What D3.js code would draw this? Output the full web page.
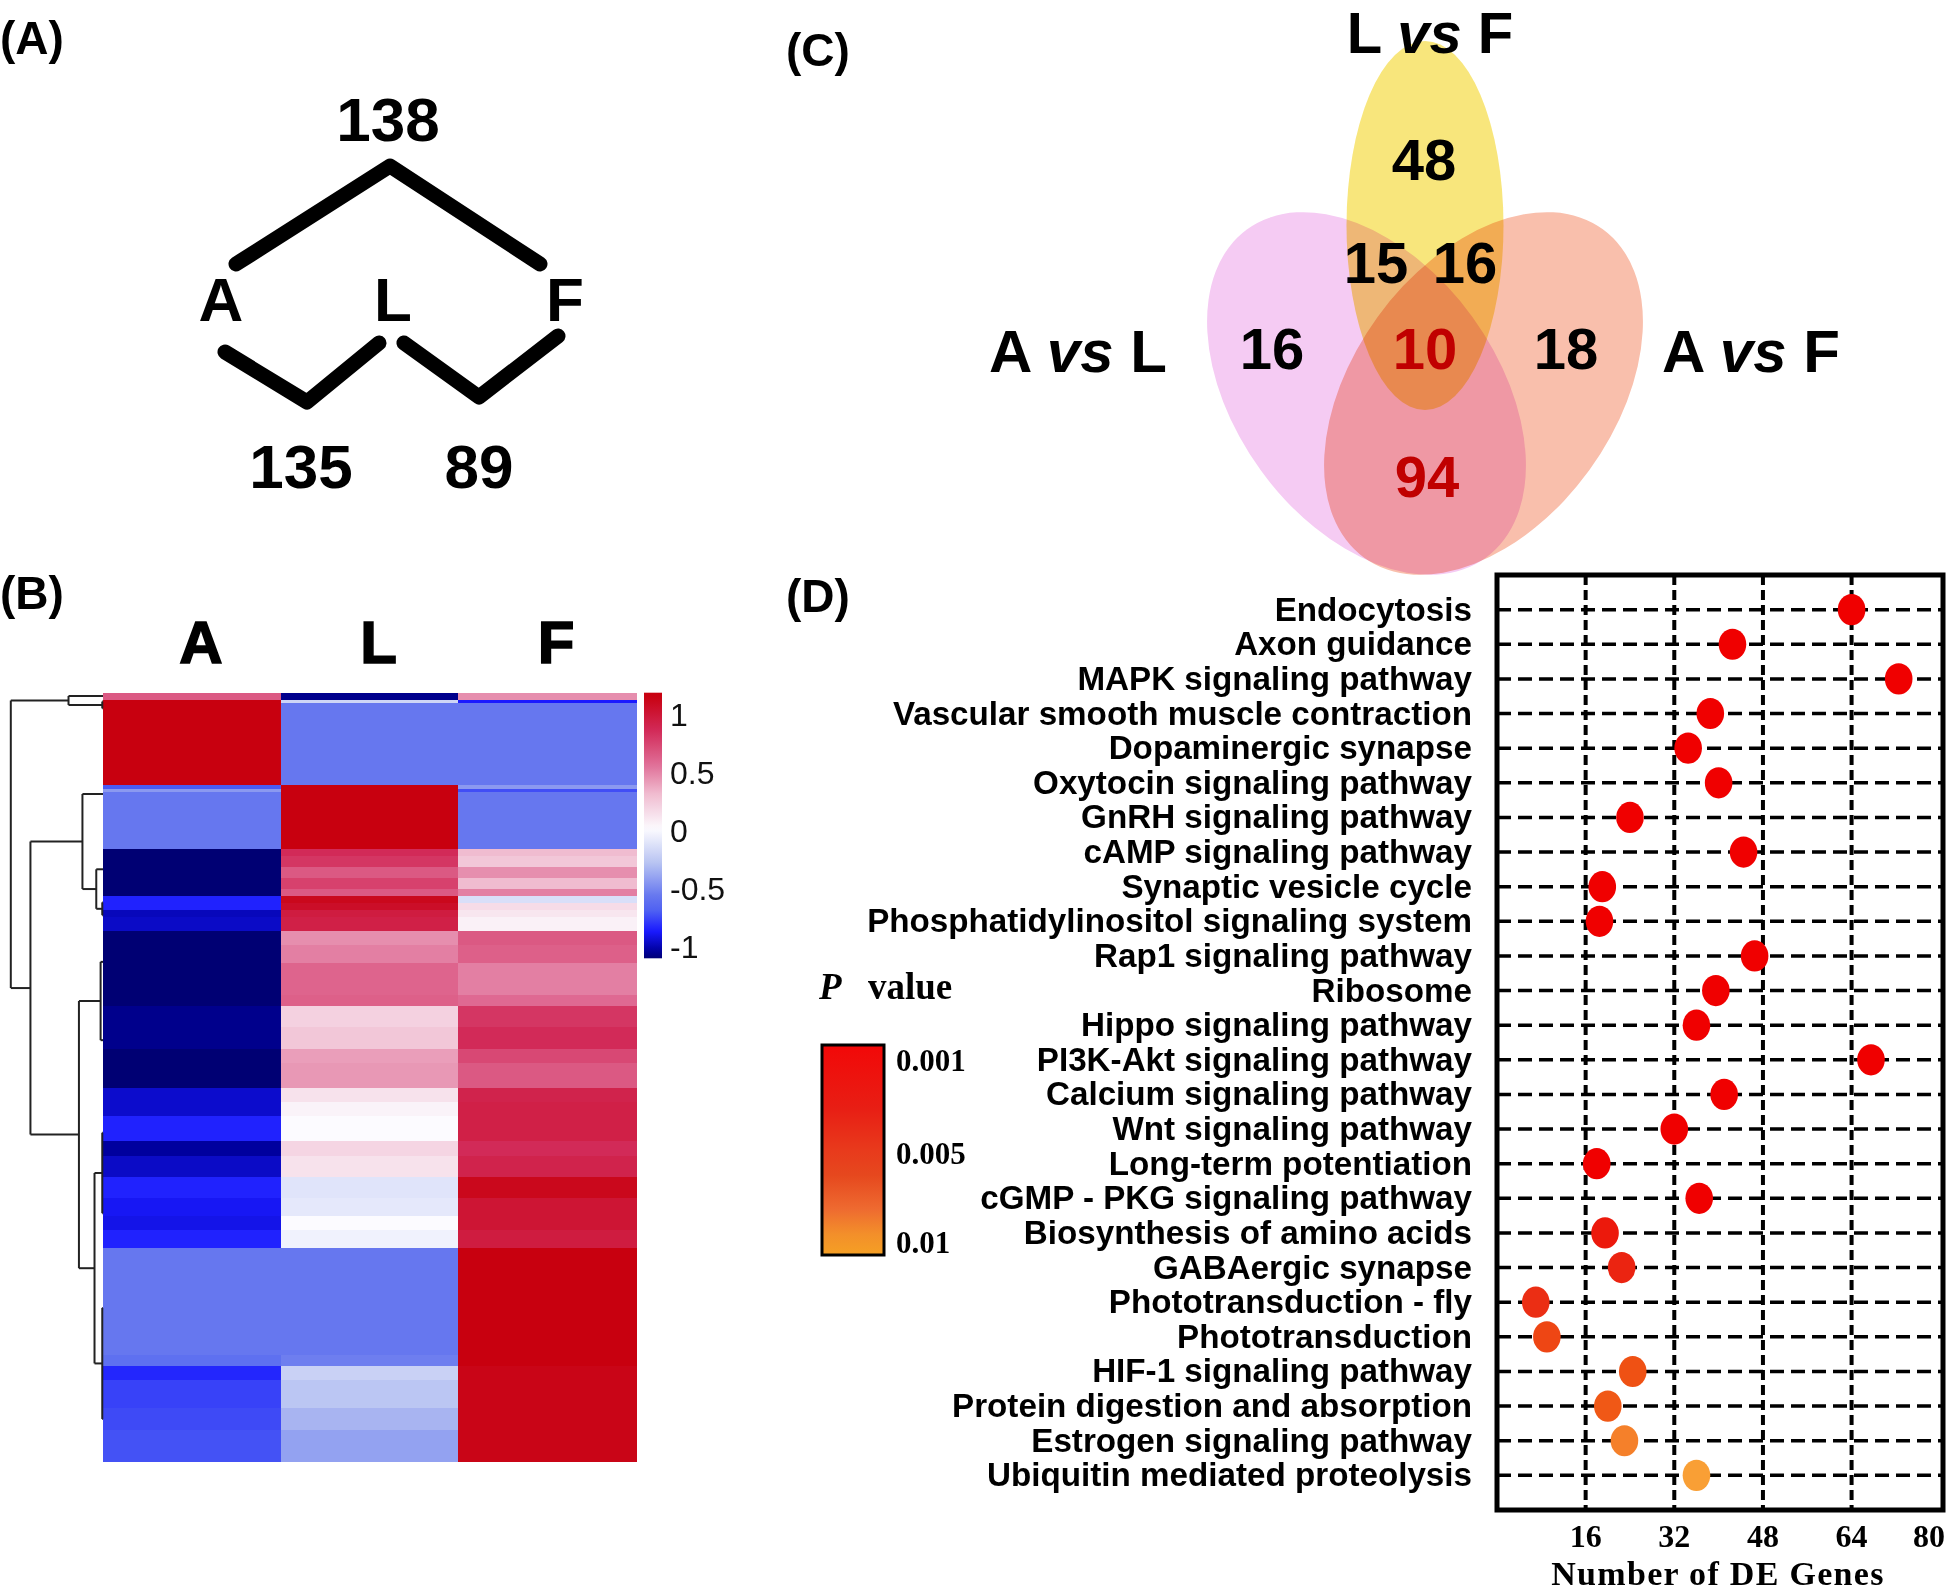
<!DOCTYPE html>
<html><head><meta charset="utf-8">
<script src="https://cdn.jsdelivr.net/npm/d3@7"></script>
<style>
html,body{margin:0;padding:0;background:#fff;}
svg{display:block;}
</style></head><body>
<svg id="fig" width="1946" height="1593"></svg>
<script>
// ================= DATA =================
// Panel A
const stageNames = ["A", "L", "F"];
const pairCounts = [138, 135, 89]; // A-F (top), A-L, L-F

// Panel B heatmap (row-scaled expression, bands of genes, top to bottom)
const heatCols = ["A", "L", "F"];
const heatCounts = [2,1,23,1,1,16,2,3,3,3,2,2,2,2,4,4,5,9,3,6,6,4,7,4,4,7,4,6,6,5,4,5,30,3,4,8,6,9];
const heatA = [0.65,1.155,1.155,-0.72,-0.45,-0.577,-1.12,-1.12,-1.12,-1.12,-1.12,-0.86,-0.86,-1.0,-0.98,-1.12,-1.12,-1.12,-1.12,-1.08,-1.08,-1.12,-1.12,-0.97,-0.97,-0.86,-1.05,-0.98,-0.86,-0.9,-0.92,-0.86,-0.577,-0.62,-0.85,-0.78,-0.76,-0.74];
const heatL = [-1.08,-0.2,-0.577,1.155,1.155,1.155,0.85,0.8,0.65,0.75,0.65,1.1,1.05,0.95,0.92,0.45,0.5,0.6,0.62,0.2,0.25,0.4,0.42,0.12,0.04,0.0,0.18,0.12,-0.12,-0.1,0.0,-0.05,-0.577,-0.55,-0.22,-0.28,-0.35,-0.42];
const heatF = [0.45,-0.88,-0.577,-0.45,-0.75,-0.577,0.3,0.25,0.45,0.3,0.5,-0.15,0.15,0.1,0.05,0.65,0.62,0.5,0.58,0.8,0.85,0.72,0.65,0.9,0.92,0.92,0.85,0.9,1.1,1.0,1.0,0.95,1.155,1.155,1.12,1.12,1.12,1.12];
const heatTicks = [1, 0.5, 0, -0.5, -1];
// row dendrogram: h = merge height, at = leaf position (gene index)
const dendrogram = {h:10, children:[
  {h:3.74, children:[{at:0.93},{h:0.08, children:[{at:2.5},{at:4.4}]}]},
  {h:7.87, children:[
    {h:2.23, children:[{at:28.45},{h:0.73, children:[{at:49.6},{h:0.08, children:[{at:58.9},{at:62.5}]}]}]},
    {h:2.61, children:[
      {h:0.26, children:[{at:75.6},{at:97.6}]},
      {h:0.92, children:[
        {h:0.08, children:[{at:123.6},{at:146.2}]},
        {h:0.08, children:[{at:172.8},{at:204}]}
      ]}
    ]}
  ]}
]};

// Panel C Venn
const vennSets = ["L vs F", "A vs L", "A vs F"];
const vennRegions = ["LF only", "LF&AL", "LF&AF", "AL only", "all", "AF only", "AL&AF"];
const vennCounts = [48, 15, 16, 16, 10, 18, 94];

// Panel D KEGG enrichment
const pathways = ["Endocytosis","Axon guidance","MAPK signaling pathway","Vascular smooth muscle contraction","Dopaminergic synapse","Oxytocin signaling pathway","GnRH signaling pathway","cAMP signaling pathway","Synaptic vesicle cycle","Phosphatidylinositol signaling system","Rap1 signaling pathway","Ribosome","Hippo signaling pathway","PI3K-Akt signaling pathway","Calcium signaling pathway","Wnt signaling pathway","Long-term potentiation","cGMP - PKG signaling pathway","Biosynthesis of amino acids","GABAergic synapse","Phototransduction - fly","Phototransduction","HIF-1 signaling pathway","Protein digestion and absorption","Estrogen signaling pathway","Ubiquitin mediated proteolysis"];
const deGenes = [64,42.5,72.5,38.5,34.5,40,24,44.5,19,18.5,46.5,39.5,36,67.5,41,32,18,36.5,19.5,22.5,7,9,24.5,20,23,36];
const pValues = [0.0005,0.0005,0.0005,0.0005,0.0005,0.0005,0.0005,0.0005,0.0005,0.0005,0.0005,0.0005,0.0005,0.0005,0.0005,0.0005,0.0005,0.0005,0.0022,0.0027,0.0032,0.0043,0.0048,0.0052,0.0075,0.0098];
const xTicks = [16, 32, 48, 64, 80];
const pTicks = [0.001, 0.005, 0.01];

// ================= DRAW =================
const SANS = "'Liberation Sans', Arial, Helvetica, sans-serif";
const SERIF = "'Liberation Serif', 'Times New Roman', serif";
const svg = d3.select("#fig");
svg.append("rect").attr("width",1946).attr("height",1593).attr("fill","#fff");

// panel letters
[["(A)",0,54],["(B)",0,609],["(C)",786,66],["(D)",786,612]].forEach(([t,x,y])=>{
  svg.append("text").attr("x",x).attr("y",y).text(t)
    .attr("font-family",SANS).attr("font-weight","bold").attr("font-size",46);
});

// ---------- Panel A ----------
{
  const g = svg.append("g");
  const xs = d3.scalePoint().domain(stageNames).range([221, 565]);
  const A = xs("A"), L = xs("L"), F = xs("F");
  const line = d3.line();
  const paths = [
    [[A+15,264],[(A+F)/2-3,166],[F-25,264]],
    [[A+4,352],[(A+L)/2,402],[L-14,343]],
    [[L+11,343],[(L+F)/2,397],[F-7,336]]
  ];
  paths.forEach(p=>g.append("path").attr("d",line(p)).attr("fill","none")
    .attr("stroke","#000").attr("stroke-width",15)
    .attr("stroke-linecap","round").attr("stroke-linejoin","round"));
  stageNames.forEach(s=>g.append("text").attr("x",xs(s)).attr("y",321).text(s)
    .attr("text-anchor","middle").attr("font-family",SANS).attr("font-weight","bold").attr("font-size",62));
  const countPos = [[(A+F)/2-5,141],[(A+L)/2-6,488],[(L+F)/2,488]];
  pairCounts.forEach((c,i)=>g.append("text").attr("x",countPos[i][0]).attr("y",countPos[i][1]).text(c)
    .attr("text-anchor","middle").attr("font-family",SANS).attr("font-weight","bold").attr("font-size",62));
}

// ---------- Panel B ----------
{
  const g = svg.append("g");
  const total = d3.sum(heatCounts);
  const yG = d3.scaleLinear().domain([0,total]).range([692.7,1461.7]);
  const xB = d3.scaleBand().domain(heatCols).range([103,636]);
  const color = d3.scaleLinear()
    .domain([-1.155,-1.05,-0.88,-0.7,-0.577,-0.3,0,0.3,0.55,0.85,1.155])
    .range(["#00005e","#00009e","#1a1aff","#5062f2","#6677ef","#b6c2f2","#fcfbff","#f0bcd0","#e07098","#d22a58","#c8000f"])
    .clamp(true);
  const starts = d3.cumsum([0, ...heatCounts]);
  const colsData = {A:heatA, L:heatL, F:heatF};
  heatCols.forEach(c=>{
    heatCounts.forEach((n,i)=>{
      g.append("rect").attr("x",xB(c)).attr("width",xB.bandwidth()+0.5)
        .attr("y",yG(starts[i])).attr("height",yG(starts[i]+n)-yG(starts[i])+0.6)
        .attr("fill",color(colsData[c][i])).attr("shape-rendering","crispEdges");
    });
  });
  heatCols.forEach(c=>g.append("text").attr("x",xB(c)+xB.bandwidth()/2+9).attr("y",663).text(c)
    .attr("text-anchor","middle").attr("font-family",SANS).attr("font-weight","bold")
    .attr("font-size",60).attr("stroke","#000").attr("stroke-width",1.6));

  // dendrogram
  const xD = d3.scaleLinear().domain([0,10]).range([103,10.8]);
  function pos(n){ if(n.children){ n.y = d3.mean(n.children.map(pos)); } else { n.y = n.at; n.h = 0; } return n.y; }
  pos(dendrogram);
  function drawNode(n){
    if(!n.children) return;
    const ys = n.children.map(c=>c.y);
    g.append("line").attr("x1",xD(n.h)).attr("x2",xD(n.h)).attr("y1",yG(d3.min(ys))).attr("y2",yG(d3.max(ys)))
      .attr("stroke","#222").attr("stroke-width",2);
    n.children.forEach(c=>{
      g.append("line").attr("x1",xD(n.h)).attr("x2",xD(c.h)).attr("y1",yG(c.y)).attr("y2",yG(c.y))
        .attr("stroke","#222").attr("stroke-width",2);
      drawNode(c);
    });
  }
  drawNode(dendrogram);

  // color key
  const yK = d3.scaleLinear().domain([1.175,-1.115]).range([692.7,958.3]);
  const grad = svg.append("defs").append("linearGradient").attr("id","heatgrad")
    .attr("x1",0).attr("x2",0).attr("y1",0).attr("y2",1);
  d3.range(0,1.0001,0.02).forEach(t=>{
    grad.append("stop").attr("offset",t).attr("stop-color",color(yK.invert(692.7+t*(958.3-692.7))));
  });
  g.append("rect").attr("x",644).attr("y",692.7).attr("width",18).attr("height",958.3-692.7).attr("fill","url(#heatgrad)");
  const ax = g.append("g").attr("transform","translate(662,0)")
    .call(d3.axisRight(yK).tickValues(heatTicks).tickSize(0).tickPadding(8).tickFormat(d=>String(d)));
  ax.select(".domain").remove();
  ax.selectAll("text").attr("font-family",SANS).attr("font-size",32).attr("fill","#111").attr("dy","0.38em");
}

// ---------- Panel C ----------
{
  const g = svg.append("g");
  const cx = 1425;
  const shapes = [
    {set:vennSets[0], x:cx, y:225.5, rx:78.5, ry:184.5, rot:0, fill:"#f8e67c"},
    {set:vennSets[1], x:cx-58.5, y:393.5, rx:130.7, ry:203, rot:-36, fill:"#f5cbf3"},
    {set:vennSets[2], x:cx+58.5, y:393.5, rx:130.7, ry:203, rot:36, fill:"#f9bfac"}
  ];
  g.selectAll("ellipse").data(shapes).join("ellipse")
    .attr("cx",0).attr("cy",0).attr("rx",d=>d.rx).attr("ry",d=>d.ry)
    .attr("transform",d=>`translate(${d.x},${d.y}) rotate(${d.rot})`)
    .attr("fill",d=>d.fill).style("mix-blend-mode","multiply");
  // set titles
  const titlePos = [[cx+5,53],[1078,372],[1751,372]];
  const titleSize = [58,60,60];
  vennSets.forEach((s,i)=>{
    const parts = s.split(" ");
    const t = g.append("text").attr("x",titlePos[i][0]).attr("y",titlePos[i][1])
      .attr("text-anchor","middle").attr("font-family",SANS).attr("font-weight","bold").attr("font-size",titleSize[i]);
    t.append("tspan").text(parts[0]+" ");
    t.append("tspan").attr("font-style","italic").text(parts[1]);
    t.append("tspan").text(" "+parts[2]);
  });
  const regionPos = [[cx-1,180],[cx-49,283],[cx+40,283],[cx-153,369],[cx,369],[cx+141,369],[cx+2,497]];
  const regionColor = ["#000","#000","#000","#000","#c00000","#000","#c00000"];
  vennCounts.forEach((c,i)=>g.append("text").attr("x",regionPos[i][0]).attr("y",regionPos[i][1]).text(c)
    .attr("text-anchor","middle").attr("font-family",SANS).attr("font-weight","bold")
    .attr("font-size",58).attr("fill",regionColor[i]));
}

// ---------- Panel D ----------
{
  const g = svg.append("g");
  const x = d3.scaleLinear().domain([0,80.5]).range([1497,1943]);
  const y = d3.scalePoint().domain(d3.range(pathways.length)).range([575,1510]).padding(1);
  const pColor = d3.scaleLinear().domain([0.001,0.003,0.005,0.0075,0.01])
    .range(["#f00000","#ea2a14","#f05514","#f5802a","#f9a236"]).clamp(true);

  // horizontal dashed row lines
  pathways.forEach((p,i)=>g.append("line").attr("x1",x(0)).attr("x2",x(80.5)).attr("y1",y(i)).attr("y2",y(i))
    .attr("stroke","#000").attr("stroke-width",3.5).attr("stroke-dasharray","14,7"));
  // vertical dashed grid
  xTicks.filter(v=>v<80).forEach(v=>g.append("line").attr("x1",x(v)).attr("x2",x(v)).attr("y1",575).attr("y2",1510)
    .attr("stroke","#000").attr("stroke-width",4).attr("stroke-dasharray","10,5"));
  // dots
  g.selectAll("ellipse.dot").data(pathways.map((p,i)=>i)).join("ellipse").attr("class","dot")
    .attr("cx",i=>x(deGenes[i])).attr("cy",i=>y(i)).attr("rx",13.8).attr("ry",15.6)
    .attr("fill",i=>pColor(pValues[i]));
  // frame
  g.append("rect").attr("x",1497).attr("y",575).attr("width",446).attr("height",935)
    .attr("fill","none").attr("stroke","#000").attr("stroke-width",5);
  // category labels
  pathways.forEach((p,i)=>g.append("text").attr("x",1472).attr("y",y(i)+11).text(p)
    .attr("text-anchor","end").attr("font-family",SANS).attr("font-weight","bold").attr("font-size",33.2));
  // x tick labels
  xTicks.forEach(v=>{
    const t = g.append("text").attr("y",1547).text(v).attr("text-anchor","middle")
      .attr("font-family",SERIF).attr("font-weight","bold").attr("font-size",32);
    const w = t.node().getComputedTextLength();
    t.attr("x",Math.min(x(v), 1945 - w/2));
  });
  g.append("text").attr("x",1718).attr("y",1585).text("Number of DE Genes")
    .attr("text-anchor","middle").attr("font-family",SERIF).attr("font-weight","bold")
    .attr("font-size",34).attr("letter-spacing",1.3);

  // legend
  g.append("text").attr("x",819).attr("y",999).text("P")
    .attr("font-family",SERIF).attr("font-weight","bold").attr("font-style","italic").attr("font-size",37);
  g.append("text").attr("x",868).attr("y",999).text("value")
    .attr("font-family",SERIF).attr("font-weight","bold").attr("font-size",37);
  const lg = svg.select("defs").append("linearGradient").attr("id","pgrad")
    .attr("x1",0).attr("x2",0).attr("y1",0).attr("y2",1);
  [[0,"#f20808"],[0.3,"#e81e14"],[0.5,"#e83a1c"],[0.62,"#e6481e"],[0.78,"#ee6a30"],[0.9,"#f38f2a"],[1,"#f5a024"]]
    .forEach(([o,c])=>lg.append("stop").attr("offset",o).attr("stop-color",c));
  g.append("rect").attr("x",822).attr("y",1045).attr("width",62).attr("height",210)
    .attr("fill","url(#pgrad)").attr("stroke","#000").attr("stroke-width",3);
  const yP = d3.scaleLinear().domain([0.001,0.005,0.01]).range([1060,1153,1242]);
  pTicks.forEach(p=>g.append("text").attr("x",896).attr("y",yP(p)).attr("dy","0.36em").text(String(p))
    .attr("font-family",SERIF).attr("font-weight","bold").attr("font-size",31));
}
</script>
</body></html>
